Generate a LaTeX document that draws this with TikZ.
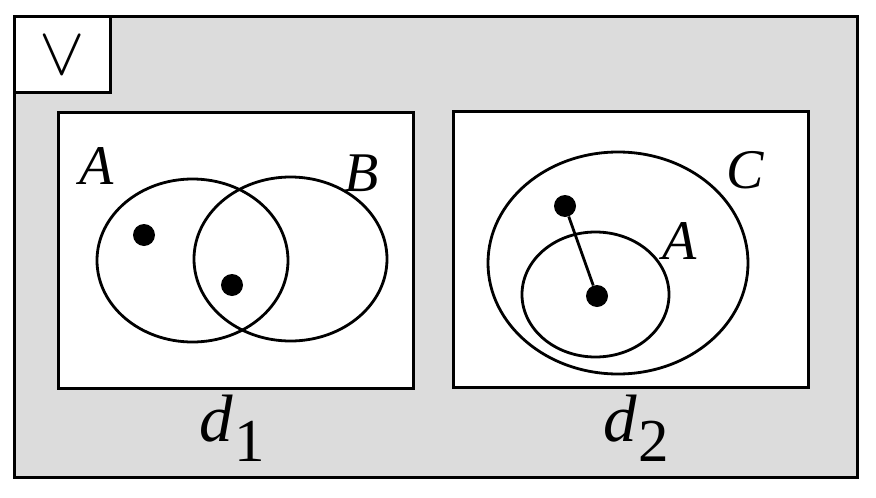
\documentclass[tikz,border=0pt]{standalone}
\usepackage{fontspec}
\usepackage{graphicx}
\setmainfont{Liberation Serif}
\begin{document}
\begin{tikzpicture}[x=1pt,y=-1pt,
  frame/.style={draw=black,line width=3pt},
  setline/.style={draw=black,line width=2.8pt},
  pt/.style={circle,fill=black,inner sep=0pt,minimum size=22pt},
  setlabel/.style={font=\fontsize{56}{60}\selectfont\itshape,inner sep=0pt},
  dlabel/.style={inner sep=0pt}]
\useasboundingbox (0,0) rectangle (876,498);
\fill[white] (0,0) rectangle (876,498);
% outer universe
\draw[frame,fill={rgb,255:red,220;green,220;blue,220}] (14,16) rectangle (857,477);
\draw[frame,fill=white] (14,16) rectangle (110,92);
\node[inner sep=0pt] (vee) at (62,56) {\scalebox{6.8}{$\vee$}};
% d1
\draw[frame,fill=white] (58,112) rectangle (413,388);
\draw[setline] (192.5,260.5) ellipse [x radius=95.5, y radius=81.5];
\draw[setline] (290.5,259) ellipse [x radius=96.5, y radius=82];
\node[pt] (p1) at (144,235) {};
\node[pt] (p2) at (232,285) {};
\node[setlabel] (lA1) at (97,166) {A};
\node[setlabel] (lB) at (362,173) {B};
\node[dlabel] (d1) at (232,428) {\fontsize{67}{70}\selectfont\itshape d\kern1pt\raisebox{-20pt}{\upshape\fontsize{61}{64}\selectfont 1}};
% d2
\draw[frame,fill=white] (453,111) rectangle (808,387);
\draw[setline] (618,263) ellipse [x radius=130, y radius=111];
\draw[setline] (595.5,294.5) ellipse [x radius=73.5, y radius=62.5];
\node[pt] (q1) at (565,206) {};
\node[pt] (q2) at (597,296) {};
\draw[black,line width=2.8pt] (q1) -- (q2);
\node[setlabel] (lC) at (745,170) {C};
\node[setlabel] (lA2) at (680,241) {A};
\node[dlabel] (d2) at (636,428) {\fontsize{67}{70}\selectfont\itshape d\kern1pt\raisebox{-20pt}{\upshape\fontsize{61}{64}\selectfont 2}};
\end{tikzpicture}
\end{document}
